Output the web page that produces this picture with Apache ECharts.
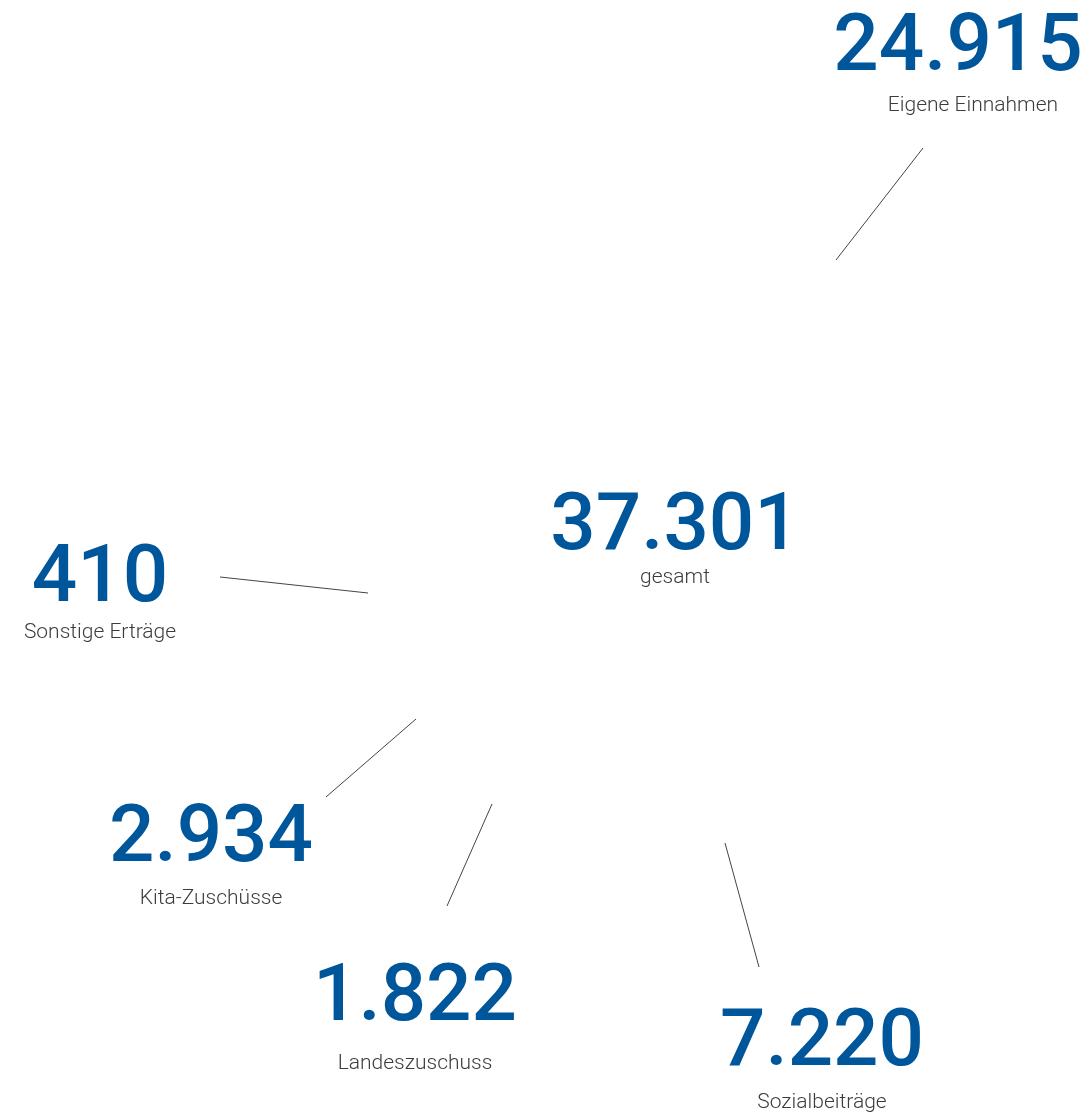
<!DOCTYPE html>
<html>
<head>
<meta charset="utf-8">
<script src="https://cdn.jsdelivr.net/npm/echarts@6/dist/echarts.min.js"></script>
<style>html,body{margin:0;padding:0;background:#ffffff}#c{width:1084px;height:1114px}</style>
</head>
<body>
<div id="c"></div>
<script>
// ---- data ----
const categories = ['Eigene Einnahmen', 'Sonstige Erträge', 'Kita-Zuschüsse', 'Landeszuschuss', 'Sozialbeiträge'];
const values = [24915, 410, 2934, 1822, 7220];
const totalName = 'gesamt';

// ---- layout (label anchors: centre-x / top-y; leader line end points) ----
const labelAnchor = [[958, 12], [100, 543], [211, 803], [415, 962], [822, 1007]];
const nameShift = [30, 0, 0, 0, 0];
const nameGap = [11, 3, 16, 28, 16];
const leaderLines = [
  [[836, 260], [923, 148]],
  [[368, 593], [220, 577]],
  [[416, 719], [326, 797]],
  [[492, 804], [447, 906]],
  [[725, 843], [759, 967]]
];

const BLUE = '#00569b';
const GREY = '#3c3c3c';
const fmt = v => String(v).replace(/\B(?=(\d{3})+(?!\d))/g, '.');
const total = values.reduce((a, b) => a + b, 0);

function richFor(i) {
  return {
    num: { fontFamily: 'Roboto', fontWeight: 500, fontSize: 80, color: BLUE, lineHeight: 76 },
    name: { fontFamily: 'Roboto', fontWeight: 300, fontSize: 21, color: GREY, lineHeight: 24,
            padding: [nameGap[i], 0, 0, nameShift[i]] }
  };
}

const data = categories.map((c, i) => ({
  name: c,
  value: values[i],
  label: { rich: richFor(i) }
}));

const chart = echarts.init(document.getElementById('c'), null, { renderer: 'canvas' });
chart.setOption({
  backgroundColor: '#ffffff',
  animation: false,
  title: {
    text: fmt(total),
    subtext: totalName,
    left: 670,
    top: 486,
    textAlign: 'center',
    itemGap: -4,
    textStyle: { fontFamily: 'Roboto', fontWeight: 500, fontSize: 80, color: BLUE, lineHeight: 76 },
    subtextStyle: { fontFamily: 'Roboto', fontWeight: 300, fontSize: 21, color: GREY }
  },
  series: [{
    type: 'pie',
    silent: true,
    clockwise: false,
    startAngle: -68,
    center: ['53%', '55%'],
    radius: ['18%', '24%'],
    itemStyle: { color: 'rgba(0,0,0,0)', borderWidth: 0 },
    label: {
      show: true,
      position: 'outside',
      formatter: p => '{num|' + fmt(p.value) + '}\n{name|' + p.name + '}',
      align: 'center'
    },
    labelLine: { show: true, length: 20, length2: 0, lineStyle: { color: '#444444', width: 1 } },
    labelLayout: function (params) {
      const i = params.dataIndex;
      return {
        x: labelAnchor[i][0],
        y: labelAnchor[i][1],
        align: 'center',
        verticalAlign: 'top',
        labelLinePoints: leaderLines[i]
      };
    },
    data: data
  }]
});
</script>
</body>
</html>
